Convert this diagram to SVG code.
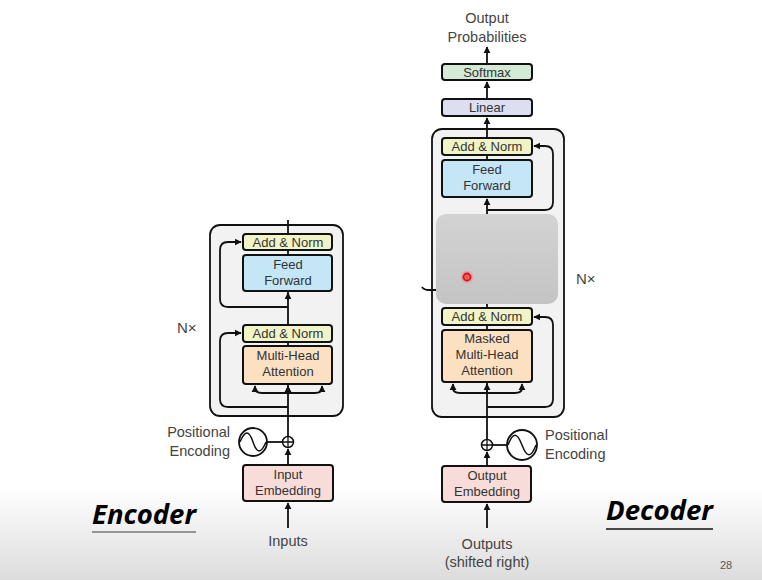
<svg xmlns="http://www.w3.org/2000/svg" width="762" height="580" viewBox="0 0 762 580">
<defs>
<linearGradient id="bg" x1="0" y1="0" x2="0" y2="1">
<stop offset="0" stop-color="#ffffff"/>
<stop offset="0.84" stop-color="#ffffff"/>
<stop offset="1" stop-color="#dcdcdc"/>
</linearGradient>
<linearGradient id="gray" x1="0" y1="0" x2="0" y2="1">
<stop offset="0" stop-color="#d3d3d3"/>
<stop offset="1" stop-color="#c4c4c4"/>
</linearGradient>
<radialGradient id="dot">
<stop offset="0" stop-color="#ff4040"/>
<stop offset="1" stop-color="#ff4040" stop-opacity="0"/>
</radialGradient>
<marker id="ah" viewBox="0 0 10 10" refX="9" refY="5" markerWidth="4" markerHeight="4" orient="auto">
<path d="M0,0 L10,5 L0,10 z" fill="#111"/>
</marker>
</defs>
<style>
.t{font-family:"Liberation Sans",Arial,sans-serif;font-size:13px;fill:#333;text-anchor:middle}
.l{font-family:"Liberation Sans",Arial,sans-serif;font-size:14.5px;fill:#444}
.box{stroke:#111;stroke-width:2}
.outer{fill:#f2f2f2;stroke:#111;stroke-width:1.8}
.an{fill:#f1f4c6}
.ff{fill:#c5e6f6}
.mha{fill:#fbe0c2}
.emb{fill:#f8dcd9}
.c{fill:none;stroke:#111;stroke-width:1.8}
.a{fill:none;stroke:#111;stroke-width:1.8;marker-end:url(#ah)}
.big{font-family:"Open Sans","DejaVu Sans",sans-serif;font-weight:bold;font-style:italic;font-size:26px;fill:#000}
</style>
<rect x="0" y="0" width="762" height="580" fill="url(#bg)"/>

<g id="encoder-stack">
<rect class="outer" x="210" y="225" width="133" height="191" rx="10"/>
</g>
<g id="decoder-stack">
<rect class="outer" x="432" y="129" width="132" height="288" rx="10"/>
</g>

<g id="connectors">
<!-- encoder -->
<path class="a" d="M288,528 L288,503"/>
<path class="a" d="M288,465 L288,449"/>
<path class="c" d="M267,442 L283,442"/>
<path class="c" d="M288,437 L288,220"/>
<path class="a" d="M288,393 L288,386"/>
<path class="a" d="M288,393 L262,393 Q255,393 255,388 L255,386"/>
<path class="a" d="M288,393 L315,393 Q322,393 322,388 L322,386"/>
<path class="a" d="M288,407 L228,407 Q220,407 220,399 L220,341 Q220,333 228,333 L241,333"/>
<path class="a" d="M288,307 L228,307 Q220,307 220,299 L220,250 Q220,242 228,242 L241,242"/>
<path class="a" d="M288,300 L288,293"/>
<!-- decoder -->
<path class="a" d="M487,528 L487,504"/>
<path class="a" d="M487,466 L487,452"/>
<path class="c" d="M492,445 L507,445"/>
<path class="c" d="M487,440 L487,382"/>
<path class="a" d="M487,393 L487,384"/>
<path class="a" d="M487,393 L460,393 Q453,393 453,388 L453,384"/>
<path class="a" d="M487,393 L515,393 Q522,393 522,388 L522,384"/>
<path class="a" d="M487,407 L545,407 Q553,407 553,399 L553,325 Q553,317 545,317 L534,317"/>
<path class="c" d="M487,330 L487,325"/>
<path class="c" d="M487,308 L487,304"/>
<path class="a" d="M487,214 L487,199"/>
<path class="a" d="M487,210 L545,210 Q553,210 553,202 L553,154 Q553,146 545,146 L534,146"/>
<path class="c" d="M487,160 L487,155"/>
<path class="a" d="M487,138 L487,118"/>
<path class="a" d="M487,99 L487,82"/>
<path class="a" d="M487,64 L487,47"/>
<path class="c" d="M422,287 Q424,290 429,290 L436,290"/>
</g>

<g id="enc-add-norm-2">
<rect class="box an" x="243" y="234" width="89" height="16" rx="3"/>
<text class="t" x="288" y="246.5">Add &amp; Norm</text>
</g>
<g id="enc-feed-forward">
<rect class="box ff" x="243" y="255" width="89" height="36" rx="3"/>
<text class="t" x="288" y="269">Feed</text>
<text class="t" x="288" y="285">Forward</text>
</g>
<g id="enc-add-norm-1">
<rect class="box an" x="243" y="325" width="89" height="17" rx="3"/>
<text class="t" x="288" y="338">Add &amp; Norm</text>
</g>
<g id="enc-mha">
<rect class="box mha" x="243" y="346" width="89" height="38" rx="3"/>
<text class="t" x="288" y="360">Multi-Head</text>
<text class="t" x="288" y="376">Attention</text>
</g>
<g id="enc-nx"><text class="l" x="177" y="333" style="font-size:15px">N×</text></g>
<g id="enc-pos">
<circle cx="253" cy="442" r="14" fill="#fff" stroke="#111" stroke-width="1.8"/>
<path d="M240,442 C245,430 249,430 253,442 C257,454 261,454 266,442" fill="none" stroke="#111" stroke-width="1.5"/>
<circle cx="288" cy="442" r="5.5" fill="#fff" stroke="#111" stroke-width="1.5"/>
<path d="M282.5,442 L293.5,442 M288,436.5 L288,447.5" stroke="#111" stroke-width="1.3"/>
<text class="l" x="230" y="437" text-anchor="end">Positional</text>
<text class="l" x="230" y="456" text-anchor="end">Encoding</text>
</g>
<g id="input-embedding">
<rect class="box emb" x="243" y="465" width="90" height="36" rx="3"/>
<text class="t" x="288" y="479">Input</text>
<text class="t" x="288" y="495">Embedding</text>
</g>
<g id="inputs"><text class="l" x="288" y="546" text-anchor="middle">Inputs</text></g>

<g id="output-probabilities">
<text class="l" x="487" y="23" text-anchor="middle">Output</text>
<text class="l" x="487" y="42" text-anchor="middle">Probabilities</text>
</g>
<g id="softmax">
<rect class="box" fill="#d2ead6" x="442" y="64" width="90" height="16" rx="3"/>
<text class="t" x="487" y="76.5">Softmax</text>
</g>
<g id="linear">
<rect class="box" fill="#dcdff0" x="442" y="99" width="90" height="17" rx="3"/>
<text class="t" x="487" y="112">Linear</text>
</g>
<g id="dec-add-norm-3">
<rect class="box an" x="442" y="138" width="90" height="17" rx="3"/>
<text class="t" x="487" y="151">Add &amp; Norm</text>
</g>
<g id="dec-feed-forward">
<rect class="box ff" x="442" y="160" width="90" height="37" rx="3"/>
<text class="t" x="487" y="174">Feed</text>
<text class="t" x="487" y="190">Forward</text>
</g>
<g id="overlay">
<rect x="436" y="214" width="122" height="90" rx="10" fill="url(#gray)"/>
<circle cx="467" cy="277" r="7" fill="url(#dot)"/>
<circle cx="467" cy="277" r="3.5" fill="none" stroke="#e01010" stroke-width="1.8"/>
</g>
<g id="dec-nx"><text class="l" x="576" y="284" style="font-size:15px">N×</text></g>
<g id="dec-add-norm-1">
<rect class="box an" x="442" y="308" width="90" height="17" rx="3"/>
<text class="t" x="487" y="321">Add &amp; Norm</text>
</g>
<g id="dec-masked-mha">
<rect class="box mha" x="442" y="330" width="90" height="52" rx="3"/>
<text class="t" x="487" y="343">Masked</text>
<text class="t" x="487" y="359">Multi-Head</text>
<text class="t" x="487" y="375">Attention</text>
</g>
<g id="dec-pos">
<circle cx="487" cy="445" r="5.5" fill="#fff" stroke="#111" stroke-width="1.5"/>
<path d="M481.5,445 L492.5,445 M487,439.5 L487,450.5" stroke="#111" stroke-width="1.3"/>
<circle cx="522" cy="445" r="15" fill="#fff" stroke="#111" stroke-width="1.8"/>
<path d="M508,445 C513,432 517,432 522,445 C527,458 531,458 536,445" fill="none" stroke="#111" stroke-width="1.5"/>
<text class="l" x="545" y="440">Positional</text>
<text class="l" x="545" y="459">Encoding</text>
</g>
<g id="output-embedding">
<rect class="box emb" x="442" y="466" width="89" height="36" rx="3"/>
<text class="t" x="487" y="480">Output</text>
<text class="t" x="487" y="496">Embedding</text>
</g>
<g id="outputs">
<text class="l" x="487" y="549" text-anchor="middle">Outputs</text>
<text class="l" x="487" y="567" text-anchor="middle">(shifted right)</text>
</g>

<g id="encoder-label">
<text class="big" x="92" y="524" textLength="104" lengthAdjust="spacingAndGlyphs">Encoder</text>
<line x1="92" y1="532" x2="196" y2="532" stroke="#777" stroke-width="1.5"/>
</g>
<g id="decoder-label">
<text class="big" x="606" y="520" textLength="107" lengthAdjust="spacingAndGlyphs">Decoder</text>
<line x1="606" y1="529" x2="713" y2="529" stroke="#111" stroke-width="1.5"/>
</g>
<g id="page-number"><text class="l" x="720" y="569" style="font-size:11px;fill:#555">28</text></g>
</svg>
